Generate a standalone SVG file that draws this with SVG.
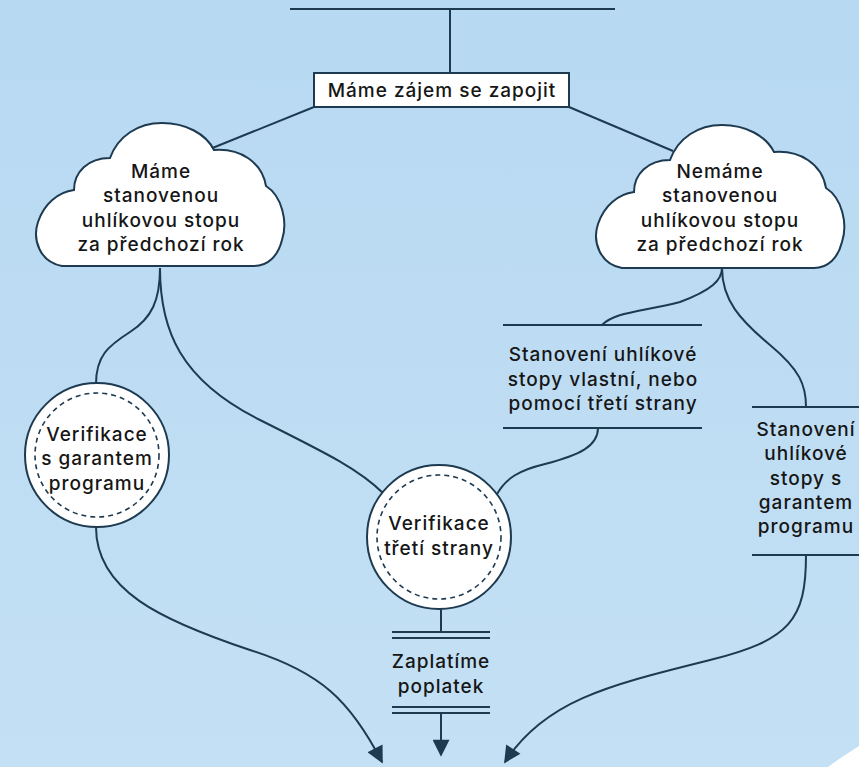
<svg xmlns="http://www.w3.org/2000/svg" width="859" height="767" viewBox="0 0 859 767">
<defs>
<linearGradient id="bg" x1="0" y1="0" x2="0" y2="1">
<stop offset="0" stop-color="#B7D9F2"/>
<stop offset="1" stop-color="#C4E0F4"/>
</linearGradient>
<marker id="arr" viewBox="0 0 10 10" refX="9" refY="5" markerWidth="19" markerHeight="17" markerUnits="userSpaceOnUse" orient="auto">
<path d="M0,0 L10,5 L0,10 Z" fill="#1E3A50"/>
</marker>
<path id="cloud" d="M62 266 C40 262 32 240 38 222 C44 204 58 192 74 190 C74 172 88 158 110 158 C118 136 138 123 162 123 C186 123 206 134 214 150 C240 148 262 162 266 186 C282 196 288 222 282 240 C278 256 268 266 254 266 Z"/>
</defs>
<style>
.ln{fill:none;stroke:#1E3A50;stroke-width:2}
.t{font-family:Inter,"Open Sans","Liberation Sans",sans-serif;font-size:19px;font-weight:500;letter-spacing:1px;fill:#161616;text-anchor:middle}
.wh{fill:#fff;stroke:#1E3A50;stroke-width:2}
.dash{fill:none;stroke:#1E3A50;stroke-width:1.6;stroke-dasharray:5 4}
</style>
<rect width="859" height="767" fill="url(#bg)"/>
<path d="M828 767 C840 758 850 752 859 746 L859 767 Z" fill="#fff"/>

<g id="connectors">
<line class="ln" x1="290" y1="9" x2="615" y2="9"/>
<line class="ln" x1="450" y1="9" x2="450" y2="73"/>
<line class="ln" x1="314" y1="107" x2="210" y2="149"/>
<line class="ln" x1="569" y1="107" x2="673" y2="151"/>
<path class="ln" d="M160 268 C160 300 152 318 130 332 C108 346 96 356 96 384"/>
<path class="ln" d="M160 268 C160 330 180 380 260 420 C330 455 360 470 384 494"/>
<path class="ln" d="M722 268 C722 280 712 290 680 302 C640 312 615 312 602 325"/>
<path class="ln" d="M722 268 C722 300 740 320 770 345 C800 370 806 385 806 407"/>
<path class="ln" d="M598 428 C598 446 580 455 545 464 C520 470 505 478 496 496"/>
<path class="ln" d="M96 527 C96 590 160 620 250 650 C320 672 350 700 382 762" marker-end="url(#arr)"/>
<path class="ln" d="M806 555 C806 620 790 640 710 660 C610 685 545 700 505 762" marker-end="url(#arr)"/>
<line class="ln" x1="441" y1="609" x2="441" y2="632"/>
<line class="ln" x1="392" y1="632" x2="490" y2="632"/>
<line class="ln" x1="392" y1="638" x2="490" y2="638"/>
<line class="ln" x1="392" y1="707" x2="490" y2="707"/>
<line class="ln" x1="392" y1="713" x2="490" y2="713"/>
<line class="ln" x1="441" y1="713" x2="441" y2="755" marker-end="url(#arr)"/>
<line class="ln" x1="503" y1="325" x2="702" y2="325"/>
<line class="ln" x1="503" y1="428" x2="702" y2="428"/>
<line class="ln" x1="752" y1="407" x2="859" y2="407"/>
<line class="ln" x1="752" y1="555" x2="859" y2="555"/>
</g>

<g id="start">
<rect class="wh" x="314" y="73" width="255" height="34"/>
<text class="t" x="442" y="97">Máme zájem se zapojit</text>
</g>

<g id="cloud-left">
<use href="#cloud" class="wh"/>
<text class="t" x="161" y="178">Máme</text>
<text class="t" x="161" y="202">stanovenou</text>
<text class="t" x="161" y="227">uhlíkovou stopu</text>
<text class="t" x="161" y="251">za předchozí rok</text>
</g>

<g id="cloud-right">
<use href="#cloud" class="wh" transform="translate(560,2)"/>
<text class="t" x="720" y="178">Nemáme</text>
<text class="t" x="720" y="202">stanovenou</text>
<text class="t" x="720" y="227">uhlíkovou stopu</text>
<text class="t" x="720" y="251">za předchozí rok</text>
</g>

<g id="verif-garant">
<circle class="wh" cx="97" cy="455" r="72"/>
<circle class="dash" cx="97" cy="455" r="62"/>
<text class="t" x="97" y="441">Verifikace</text>
<text class="t" x="97" y="465">s garantem</text>
<text class="t" x="97" y="490">programu</text>
</g>

<g id="verif-treti">
<circle class="wh" cx="439" cy="537" r="72"/>
<circle class="dash" cx="439" cy="537" r="62"/>
<text class="t" x="439" y="530">Verifikace</text>
<text class="t" x="439" y="555">třetí strany</text>
</g>

<g id="poplatek">
<text class="t" x="441" y="668">Zaplatíme</text>
<text class="t" x="441" y="693">poplatek</text>
</g>

<g id="stanoveni-vlastni">
<text class="t" x="603" y="361">Stanovení uhlíkové</text>
<text class="t" x="603" y="386">stopy vlastní, nebo</text>
<text class="t" x="603" y="410">pomocí třetí strany</text>
</g>

<g id="stanoveni-garant">
<text class="t" x="806" y="436">Stanovení</text>
<text class="t" x="806" y="460">uhlíkové</text>
<text class="t" x="806" y="485">stopy s</text>
<text class="t" x="806" y="509">garantem</text>
<text class="t" x="806" y="533">programu</text>
</g>
</svg>
